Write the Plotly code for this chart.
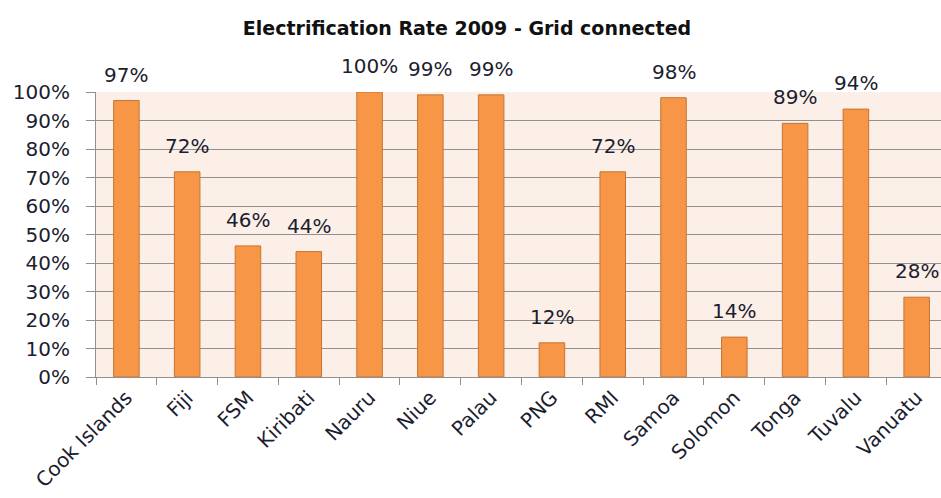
import plotly.graph_objects as go

countries = ["Cook Islands", "Fiji", "FSM", "Kiribati", "Nauru", "Niue", "Palau",
             "PNG", "RMI", "Samoa", "Solomon", "Tonga", "Tuvalu", "Vanuatu"]
rates = [0.97, 0.72, 0.46, 0.44, 1.00, 0.99, 0.99, 0.12, 0.72, 0.98, 0.14, 0.89, 0.94, 0.28]
rate_labels = ["97%", "72%", "46%", "44%", "100%", "99%", "99%", "12%", "72%", "98%",
               "14%", "89%", "94%", "28%"]
y_ticks = [0, 0.1, 0.2, 0.3, 0.4, 0.5, 0.6, 0.7, 0.8, 0.9, 1.0]
y_tick_text = ["0%", "10%", "20%", "30%", "40%", "50%", "60%", "70%", "80%", "90%", "100%"]

FONT = "'DejaVu Sans', sans-serif"
TXT = "#1c1d30"
GRID = "#909090"

fig = go.Figure(go.Bar(
    x=countries, y=rates,
    marker=dict(color="#F79646", line=dict(color="#C77434", width=1)),
    width=0.42, hoverinfo="x+y",
))

for c, r, lab in zip(countries, rates, rate_labels):
    fig.add_annotation(x=c, y=r, text=lab, showarrow=False, yanchor="bottom",
                       xanchor="center", yshift=12,
                       font=dict(family=FONT, size=20, color=TXT))

fig.update_layout(
    width=941, height=498,
    margin=dict(l=96, r=0, t=92, b=121, autoexpand=False),
    paper_bgcolor="white", plot_bgcolor="#FBEFE8",
    title=dict(text="<b>Electrification Rate 2009 - Grid connected</b>",
               x=467/941, xref="container", xanchor="center",
               y=1-28/498, yref="container", yanchor="middle",
               font=dict(family=FONT, size=19, color="#111111")),
    showlegend=False,
)
fig.update_yaxes(range=[0, 1], tickvals=y_ticks, ticktext=y_tick_text,
                 showgrid=True, gridcolor=GRID, gridwidth=1,
                 showline=True, linecolor=GRID, linewidth=1,
                 ticks="outside", ticklen=9, tickcolor=GRID, automargin=False,
                 ticklabelstandoff=12,
                 tickfont=dict(family=FONT, size=20, color=TXT), zeroline=False)
fig.update_xaxes(range=[-0.5, 13.4], tickangle=-45, tickson="boundaries",
                 ticks="outside", ticklen=7, tickcolor=GRID, automargin=False,
                 showline=True, linecolor=GRID, linewidth=1,
                 tickfont=dict(family=FONT, size=20, color=TXT))

fig.write_html("out.html", config={"displayModeBar": False},
               post_script="document.body.style.margin='0';document.body.style.overflow='hidden';")
